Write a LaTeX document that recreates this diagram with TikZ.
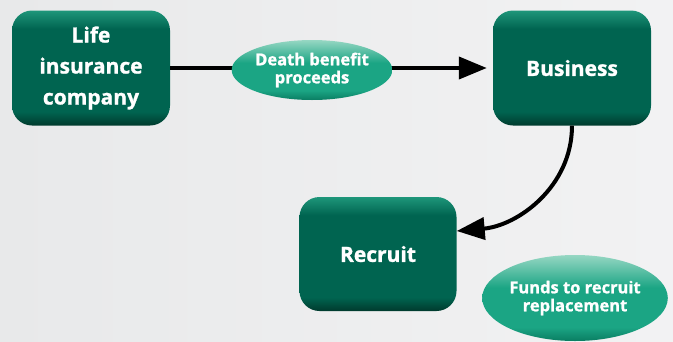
\documentclass[tikz,border=0pt]{standalone}
\usepackage{fontspec}
\setmainfont{Open Sans}[BoldFeatures={FakeBold=1.2}]
\usepackage{xcolor}
\usepackage{tikz}
\usetikzlibrary{shapes.geometric, arrows.meta, positioning}
\definecolor{boxgreen}{RGB}{0, 100, 80}
\definecolor{boxlight}{RGB}{30, 150, 122}
\definecolor{boxdark}{RGB}{0, 58, 45}
\definecolor{ovalgreen}{RGB}{27, 165, 132}
\definecolor{ovallight}{RGB}{150, 215, 195}
\definecolor{ovaldark}{RGB}{10, 125, 98}
\definecolor{bgleft}{RGB}{232, 233, 234}
\definecolor{bgright}{RGB}{242, 242, 243}
\pgfdeclareverticalshading{boxshade}{100bp}{color(0bp)=(boxdark); color(25bp)=(boxdark); color(31bp)=(boxgreen); color(67bp)=(boxgreen); color(75bp)=(boxlight); color(100bp)=(boxlight)}
\pgfdeclareverticalshading{ovalshade}{100bp}{color(0bp)=(ovaldark); color(25bp)=(ovaldark); color(33bp)=(ovalgreen); color(56bp)=(ovalgreen); color(75bp)=(ovallight); color(100bp)=(ovallight)}
\tikzstyle{block} = [
    rectangle,
    rounded corners=20pt,
    minimum width=158pt,
    minimum height=115pt,
    align=center,
    shade,
    shading=boxshade,
    text=white,
    font=\bfseries\fontsize{21}{31}\selectfont
]
\tikzstyle{oval} = [
    ellipse,
    inner sep=0pt,
    align=center,
    shade,
    shading=ovalshade,
    text=white,
    font=\bfseries\fontsize{16.5}{18}\selectfont
]
\tikzstyle{arrow} = [
    line width=4pt,
    -{Triangle[length=28pt, width=22pt]},
    color=black
]

\begin{document}
\begin{tikzpicture}[x=1pt, y=-1pt]
        % Background
        \shade[left color=bgleft, right color=bgright] (0,0) rectangle (673,341);
        \useasboundingbox (0,0) rectangle (673,341);

        % Boxes
        \node[block] (life) at (91,68) {Life\\insurance\\company};
        \node[block] (biz) at (572,68) {Business};
        \node[block, minimum width=157pt, minimum height=114pt] (rec) at (378,254) {Recruit};

        % Arrows
        \draw[arrow, shorten >=6pt] (life) -- (biz);
        \draw[arrow] (biz.south) to[out=-90, in=5] ([yshift=23pt]rec.east);

        % Labels
        \node[oval, minimum width=155pt, minimum height=60pt] (proceeds) at (312,70) {Death benefit\\proceeds};
        \node[oval, minimum width=184pt, minimum height=86pt] (funds) at (575,298) {Funds to recruit\\replacement};
    \end{tikzpicture}
\end{document}
